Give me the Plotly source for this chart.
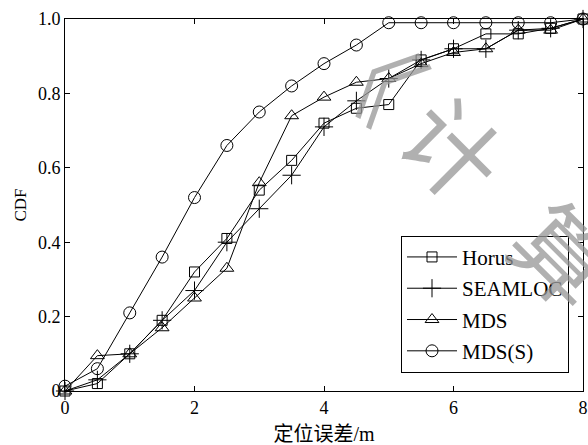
import plotly.graph_objects as go

# Localisation error (m) at which the CDF is sampled
error_m = [0, 0.5, 1, 1.5, 2, 2.5, 3, 3.5, 4, 4.5, 5, 5.5, 6, 6.5, 7, 7.5, 8]

horus = [0.0, 0.02, 0.10, 0.19, 0.32, 0.41, 0.54, 0.62, 0.72, 0.76, 0.77,
         0.89, 0.92, 0.96, 0.96, 0.975, 1.0]
seamloc = [0.0, 0.03, 0.10, 0.19, 0.27, 0.40, 0.49, 0.58, 0.71, 0.78, 0.84,
           0.89, 0.92, 0.92, 0.97, 0.975, 1.0]
mds = [0.0, 0.095, 0.10, 0.17, 0.25, 0.33, 0.56, 0.74, 0.79, 0.83, 0.84,
       0.88, 0.91, 0.92, 0.97, 0.97, 1.0]
mds_s = [0.013, 0.06, 0.21, 0.36, 0.52, 0.66, 0.75, 0.82, 0.88, 0.93, 0.99,
         0.99, 0.99, 0.99, 0.99, 0.99, 1.0]

series_names = ["Horus", "SEAMLOC", "MDS", "MDS(S)"]
x_ticks = [0, 2, 4, 6, 8]
y_ticks = [0, 0.2, 0.4, 0.6, 0.8, 1.0]
y_tick_text = ["0", "0.2", "0.4", "0.6", "0.8", "1.0"]

SERIF = "Liberation Serif, Noto Sans CJK SC, serif"

styles = [
    dict(symbol="square-open", size=10),
    dict(symbol="cross-thin", size=13),
    dict(symbol="triangle-up-open", size=12),
    dict(symbol="circle-open", size=12),
]

fig = go.Figure()
for i, (name, ys, st) in enumerate(zip(series_names, [horus, seamloc, mds, mds_s], styles)):
    fig.add_trace(go.Scatter(
        x=error_m, y=ys, name=name, mode="lines+markers",
        legendgroup=f"g{i}",
        line=dict(color="black", width=1),
        marker=dict(symbol=st["symbol"], size=st["size"], color="black",
                    line=dict(color="black", width=1)),
        cliponaxis=False,
    ))

axis_common = dict(
    showline=True, linecolor="black", linewidth=1, mirror="ticks",
    ticks="inside", ticklen=5, tickcolor="black", tickwidth=1,
    showgrid=False, zeroline=False, automargin=False,
    tickfont=dict(family=SERIF, size=18, color="black"),
)

fig.update_xaxes(range=[0, 8], tickvals=x_ticks, ticktext=[str(v) for v in x_ticks],
                 title=dict(text="定位误差/m", font=dict(family=SERIF, size=20, color="black"),
                            standoff=12),
                 **axis_common)
fig.update_yaxes(range=[0, 1], tickvals=y_ticks, ticktext=y_tick_text,
                 title=dict(text="CDF", font=dict(family=SERIF, size=17, color="black"),
                            standoff=6),
                 **axis_common)

# Grey diagonal watermark characters
wm_color = "rgba(150,150,150,0.75)"
for ch, px, py in [("《", 374, 64), ("计", 456, 146), ("算", 566, 252)]:
    fig.add_annotation(
        text=ch, xref="paper", yref="paper",
        x=(px - 65) / 518, y=(391 - py) / 372,
        xanchor="center", yanchor="middle", showarrow=False,
        textangle=45, font=dict(family="Noto Sans CJK SC", size=96, color=wm_color),
    )

fig.update_layout(
    width=588, height=445,
    margin=dict(l=65, r=5, t=19, b=54),
    paper_bgcolor="white", plot_bgcolor="white",
    showlegend=True,
    legend=dict(
        x=0.973, y=0.049, xanchor="right", yanchor="bottom",
        bgcolor="white", bordercolor="black", borderwidth=1,
        font=dict(family=SERIF, size=21, color="black"),
        itemwidth=50, tracegroupgap=1, traceorder="grouped",
    ),
)

fig.write_html("out.html")
